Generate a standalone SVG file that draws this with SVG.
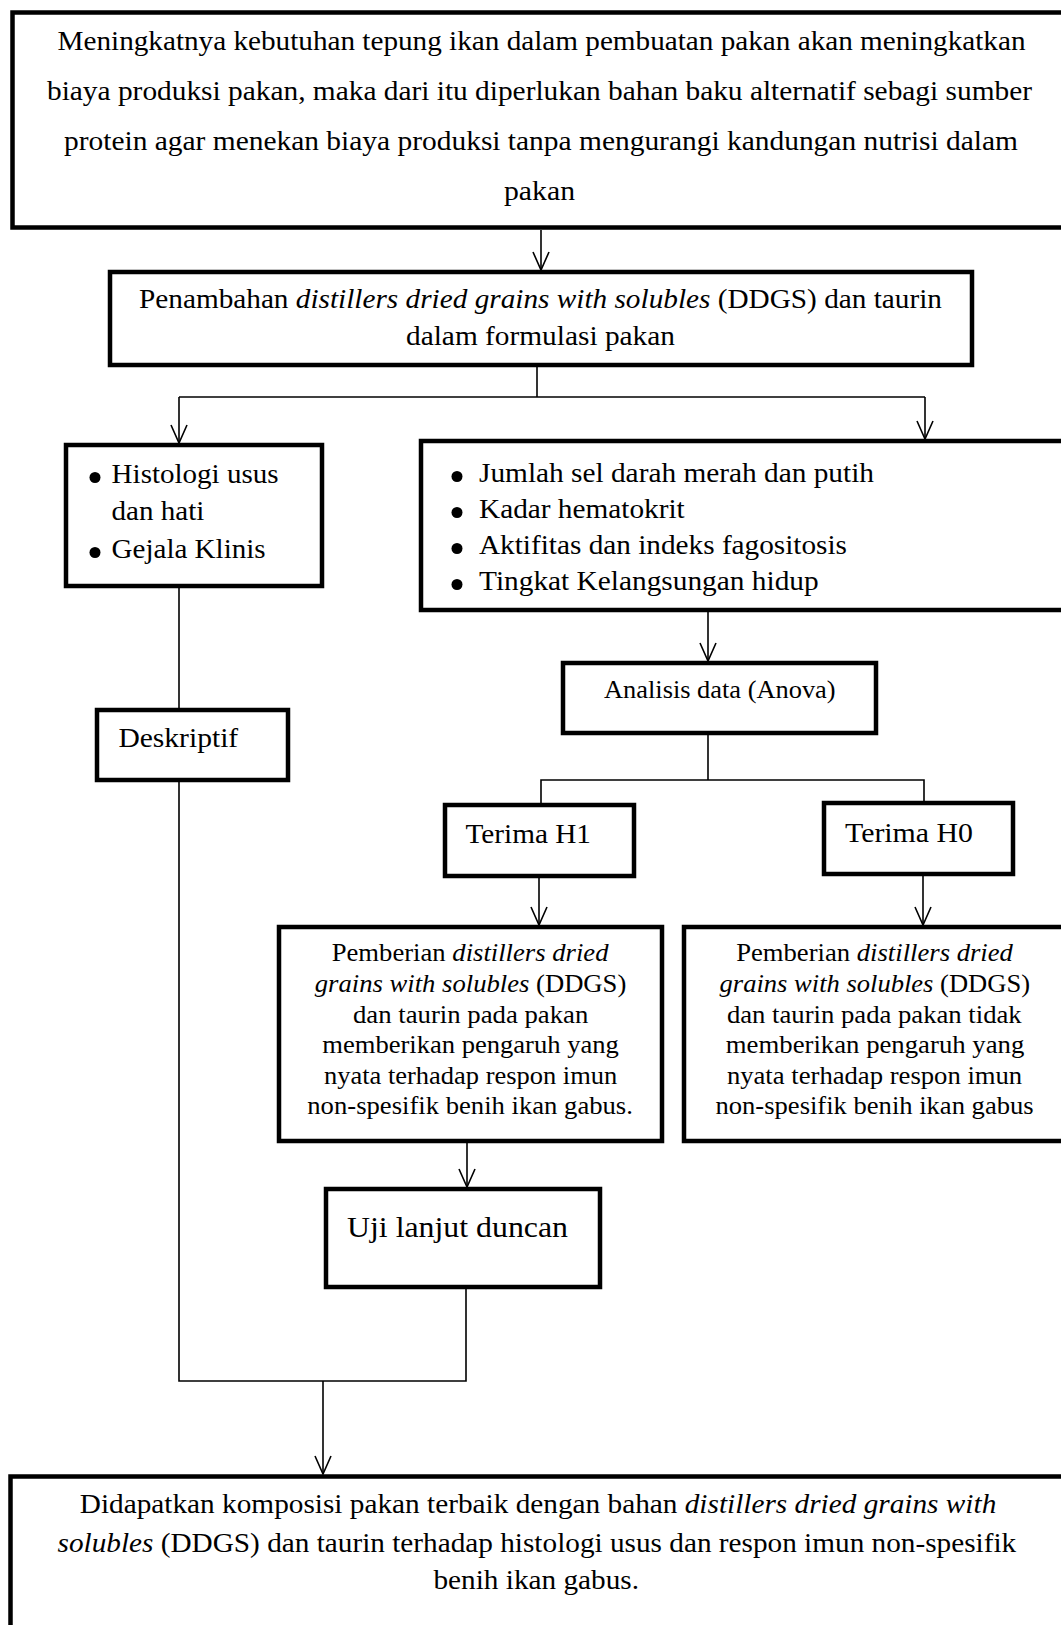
<svg xmlns="http://www.w3.org/2000/svg" width="1061" height="1625" viewBox="0 0 1061 1625">
<style>
.box{fill:#fff;stroke:#000;stroke-width:4.5}
.con{fill:none;stroke:#000;stroke-width:1.6}
.i{font-style:italic}
.b{fill:#000}
</style>
<defs>
<marker id="arr" viewBox="-20 -10 22 20" refX="0" refY="0" markerWidth="22" markerHeight="20" markerUnits="userSpaceOnUse" orient="auto">
<path d="M-18,-8 L0,0 L-18,8" fill="none" stroke="#000" stroke-width="1.6"/>
</marker>
</defs>
<rect x="0" y="0" width="1061" height="1625" fill="#fff"/>

<g id="connectors">
<line class="con" x1="541" y1="230" x2="541" y2="270" marker-end="url(#arr)"/>
<polyline class="con" points="537,367 537,397"/>
<polyline class="con" points="179,397 925,397"/>
<line class="con" x1="179" y1="397" x2="179" y2="443" marker-end="url(#arr)"/>
<line class="con" x1="925" y1="397" x2="925" y2="439" marker-end="url(#arr)"/>
<line class="con" x1="708" y1="612" x2="708" y2="661" marker-end="url(#arr)"/>
<polyline class="con" points="708,735 708,780"/>
<polyline class="con" points="541,803 541,780 924,780 924,801"/>
<line class="con" x1="539" y1="878" x2="539" y2="925" marker-end="url(#arr)"/>
<line class="con" x1="923" y1="876" x2="923" y2="925" marker-end="url(#arr)"/>
<line class="con" x1="467" y1="1143" x2="467" y2="1187" marker-end="url(#arr)"/>
<polyline class="con" points="179,588 179,708"/>
<polyline class="con" points="179,782 179,1381 466,1381 466,1289"/>
<line class="con" x1="323" y1="1381" x2="323" y2="1474" marker-end="url(#arr)"/>
</g>

<g font-family="Liberation Serif" fill="#000">
<g id="n1">
<rect class="box" x="12.5" y="12.5" width="1065" height="215"/>
<text font-size="28" x="57.5" y="50" textLength="968" lengthAdjust="spacingAndGlyphs">Meningkatnya kebutuhan tepung ikan dalam pembuatan pakan akan meningkatkan</text>
<text font-size="28" x="47" y="100" textLength="985" lengthAdjust="spacingAndGlyphs">biaya produksi pakan, maka dari itu diperlukan bahan baku alternatif sebagi sumber</text>
<text font-size="28" x="64" y="150" textLength="954" lengthAdjust="spacingAndGlyphs">protein agar menekan biaya produksi tanpa mengurangi kandungan nutrisi dalam</text>
<text font-size="28" x="504" y="200" textLength="71" lengthAdjust="spacingAndGlyphs">pakan</text>
</g>

<g id="n2">
<rect class="box" x="110" y="272" width="862" height="93"/>
<text font-size="26.5" x="139" y="308" textLength="803" lengthAdjust="spacingAndGlyphs">Penambahan <tspan class="i">distillers dried grains with solubles</tspan> (DDGS) dan taurin</text>
<text font-size="26.5" x="406" y="345" textLength="269" lengthAdjust="spacingAndGlyphs">dalam formulasi pakan</text>
</g>

<g id="n3">
<rect class="box" x="66" y="445" width="256" height="141"/>
<circle class="b" cx="95" cy="477.5" r="5.5"/>
<text font-size="28" x="111.6" y="483" textLength="167" lengthAdjust="spacingAndGlyphs">Histologi usus</text>
<text font-size="28" x="111.6" y="520" textLength="92.7" lengthAdjust="spacingAndGlyphs">dan hati</text>
<circle class="b" cx="95" cy="552.5" r="5.5"/>
<text font-size="28" x="111.6" y="558" textLength="154" lengthAdjust="spacingAndGlyphs">Gejala Klinis</text>
</g>

<g id="n4">
<rect class="box" x="421" y="441" width="660" height="169"/>
<circle class="b" cx="457" cy="476.5" r="5.5"/>
<text font-size="28" x="479" y="482" textLength="395" lengthAdjust="spacingAndGlyphs">Jumlah sel darah merah dan putih</text>
<circle class="b" cx="457" cy="512.5" r="5.5"/>
<text font-size="28" x="479" y="518" textLength="205.7" lengthAdjust="spacingAndGlyphs">Kadar hematokrit</text>
<circle class="b" cx="457" cy="548.5" r="5.5"/>
<text font-size="28" x="479" y="554" textLength="368" lengthAdjust="spacingAndGlyphs">Aktifitas dan indeks fagositosis</text>
<circle class="b" cx="457" cy="584.5" r="5.5"/>
<text font-size="28" x="479" y="590" textLength="339.7" lengthAdjust="spacingAndGlyphs">Tingkat Kelangsungan hidup</text>
</g>

<g id="n5">
<rect class="box" x="563" y="663" width="313" height="70"/>
<text font-size="25.5" x="604" y="698" textLength="231.6" lengthAdjust="spacingAndGlyphs">Analisis data (Anova)</text>
</g>

<g id="n6">
<rect class="box" x="97" y="710" width="191" height="70"/>
<text font-size="28" x="118.4" y="747" textLength="119.8" lengthAdjust="spacingAndGlyphs">Deskriptif</text>
</g>

<g id="n7">
<rect class="box" x="445" y="805" width="189" height="71"/>
<text font-size="27" x="465.5" y="843" textLength="125.5" lengthAdjust="spacingAndGlyphs">Terima H1</text>
</g>

<g id="n8">
<rect class="box" x="824" y="803" width="189" height="71"/>
<text font-size="27" x="845" y="842" textLength="128" lengthAdjust="spacingAndGlyphs">Terima H0</text>
</g>

<g id="n9">
<rect class="box" x="279" y="927" width="383" height="214"/>
<text font-size="25" x="331.7" y="961" textLength="276.8" lengthAdjust="spacingAndGlyphs">Pemberian <tspan class="i">distillers dried</tspan></text>
<text font-size="25" x="314.8" y="992" textLength="311.5" lengthAdjust="spacingAndGlyphs"><tspan class="i">grains with solubles</tspan> (DDGS)</text>
<text font-size="25" x="353" y="1022.5" textLength="235.3" lengthAdjust="spacingAndGlyphs">dan taurin pada pakan</text>
<text font-size="25" x="322.3" y="1053" textLength="296.5" lengthAdjust="spacingAndGlyphs">memberikan pengaruh yang</text>
<text font-size="25" x="324" y="1084" textLength="293.3" lengthAdjust="spacingAndGlyphs">nyata terhadap respon imun</text>
<text font-size="25" x="307.3" y="1114" textLength="325.6" lengthAdjust="spacingAndGlyphs">non-spesifik benih ikan gabus.</text>
</g>

<g id="n10">
<rect class="box" x="684" y="927" width="400" height="214"/>
<text font-size="25" x="736.2" y="961" textLength="276.7" lengthAdjust="spacingAndGlyphs">Pemberian <tspan class="i">distillers dried</tspan></text>
<text font-size="25" x="719.6" y="992" textLength="310.4" lengthAdjust="spacingAndGlyphs"><tspan class="i">grains with solubles</tspan> (DDGS)</text>
<text font-size="25" x="726.9" y="1022.5" textLength="294.8" lengthAdjust="spacingAndGlyphs">dan taurin pada pakan tidak</text>
<text font-size="25" x="725.8" y="1053" textLength="298.5" lengthAdjust="spacingAndGlyphs">memberikan pengaruh yang</text>
<text font-size="25" x="726.9" y="1084" textLength="295.3" lengthAdjust="spacingAndGlyphs">nyata terhadap respon imun</text>
<text font-size="25" x="715.5" y="1114" textLength="318.1" lengthAdjust="spacingAndGlyphs">non-spesifik benih ikan gabus</text>
</g>

<g id="n11">
<rect class="box" x="326" y="1189" width="274" height="98"/>
<text font-size="29" x="347" y="1237" textLength="221" lengthAdjust="spacingAndGlyphs">Uji lanjut duncan</text>
</g>

<g id="n12">
<rect class="box" x="10.5" y="1476.5" width="1065" height="200"/>
<text font-size="27" x="79.8" y="1513" textLength="916.5" lengthAdjust="spacingAndGlyphs">Didapatkan komposisi pakan terbaik dengan bahan <tspan class="i">distillers dried grains with</tspan></text>
<text font-size="27" x="57.5" y="1552" textLength="958.7" lengthAdjust="spacingAndGlyphs"><tspan class="i">solubles</tspan> (DDGS) dan taurin terhadap histologi usus dan respon imun non-spesifik</text>
<text font-size="27" x="433.5" y="1589" textLength="205.5" lengthAdjust="spacingAndGlyphs">benih ikan gabus.</text>
</g>
</g>
</svg>
